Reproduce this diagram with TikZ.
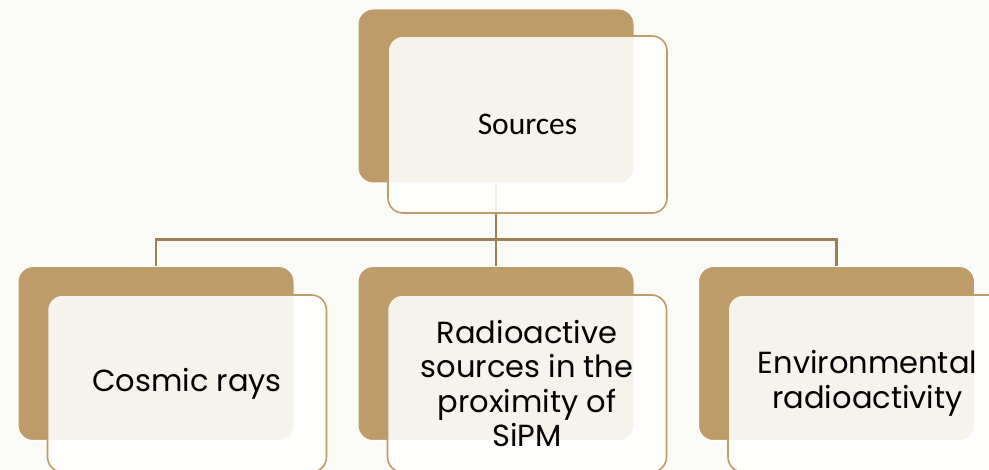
\documentclass[tikz,border=0pt]{standalone}
\usepackage{fontspec}
\setmainfont{Carlito}
\newfontfamily\gothic{Poppins}
\usetikzlibrary{positioning}

\definecolor{tan}{RGB}{189,156,105}
\definecolor{linkcol}{RGB}{156,127,82}
\definecolor{paper}{RGB}{250,250,246}

\begin{document}
\begin{tikzpicture}[
    x=1pt, y=-1pt,
    back/.style={rectangle, draw=white, fill=tan, line width=1pt, rounded corners=15pt, minimum width=276pt, minimum height=174pt},
    front/.style={rectangle, draw=tan, fill=white, fill opacity=0.88, text opacity=1, line width=1.6pt, rounded corners=15pt, minimum width=279pt, minimum height=177pt, align=center},
    leaf/.style={front, font=\gothic\fontsize{30.5}{34.5}\selectfont},
    link/.style={draw=linkcol, line width=2.2pt}
]

\fill[paper] (0,0) rectangle (989,470);
\clip (0,0) rectangle (989,470);

% back plates
\node[back] (srcback) at (496,96) {};
\node[back] (cosmicback) at (156,353.5) {};
\node[back] (radioback) at (496,353.5) {};
\node[back] (envback) at (836.5,353.5) {};

% tree lines
\draw[link] (srcback.south) -- ++(0,56) coordinate (bus);
\draw[link] (cosmicback.north) |- (bus) -| (envback.north);
\draw[link] (bus) -- (radioback.north);

% front cards
\node[front, font=\fontsize{31.5}{36}\selectfont] (src) at (527.5,124.5) {Sources};
\node[leaf] (cosmic) at (187,383.5) {Cosmic rays};
\node[leaf] (radio) at (527,383.5) {Radioactive\\sources in the\\proximity of\\SiPM};
\node[leaf] (env) at (867.5,383.5) {Environmental\\radioactivity};

\end{tikzpicture}
\end{document}
